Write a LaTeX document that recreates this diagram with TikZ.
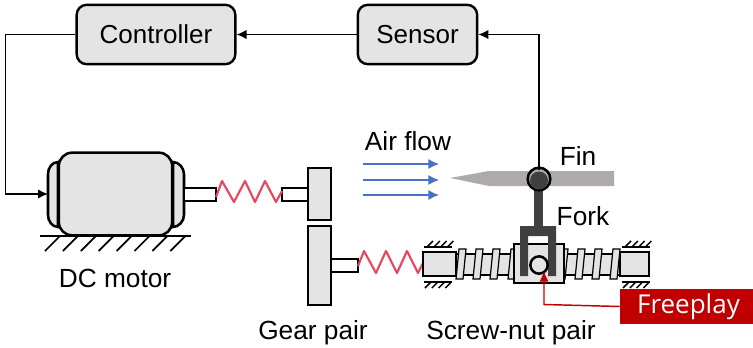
\documentclass[tikz,border=0pt]{standalone}
\usepackage{fontspec}
\setmainfont{Liberation Sans}
\newfontfamily\freefont{Open Sans}
\usetikzlibrary{arrows.meta}
\definecolor{boxgray}{HTML}{E4E4E4}
\definecolor{forkgray}{HTML}{404040}
\definecolor{fingray}{HTML}{AEAAAA}
\definecolor{springred}{HTML}{E8475F}
\definecolor{flowblue}{HTML}{4472C4}
\definecolor{darkred}{HTML}{C00000}
\tikzset{
  x=0.75pt,y=-0.75pt,
  ctrlbox/.style={draw=black,fill=boxgray,line width=1.8pt,rounded corners=7.5pt,minimum width=119pt,minimum height=44.5pt,inner sep=0pt,font=\fontsize{19.5}{22}\selectfont},
  part/.style={draw=black,fill=boxgray,line width=1.9pt},
  shaft/.style={draw=black,fill=white,line width=1.9pt},
  wire/.style={draw=black,line width=1pt,-{Latex[length=7.5pt,width=7pt]}},
  spring/.style={draw=springred,line width=1.6pt,line join=round},
  flow/.style={draw=flowblue,line width=1pt,-{Latex[length=8pt,width=7.5pt]}},
  hatch/.style={draw=black,line width=1.3pt},
  label/.style={inner sep=0pt,font=\fontsize{19.7}{22}\selectfont},
}
\begin{document}
\begin{tikzpicture}
\useasboundingbox (0,0) rectangle (753,347);
% boxes
\node[ctrlbox] (ctrl) at (156,34.5) {Controller};
\node[ctrlbox,minimum width=89.5pt] (sens) at (417.5,34.5) {Sensor};
% motor
\draw[part] (58,162) -- (58,227) .. controls (52,227) and (48,221) .. (48,215) -- (48,174) .. controls (48,168) and (52,162) .. (58,162) -- cycle;
\draw[part] (173,162) -- (173,227) .. controls (179,227) and (184,221) .. (184,215) -- (184,174) .. controls (184,168) and (179,162) .. (173,162) -- cycle;
\node[part,rounded corners=10pt,minimum width=85pt,minimum height=62pt,inner sep=0pt] (motor) at (115.5,194) {};
\coordinate (motorin) at (48,194);
\draw[hatch,line width=1.9pt] (40,236) -- (191,236);
\foreach \i in {0,...,7} \draw[hatch] (45+17.9*\i,251) -- (60+17.9*\i,236);
% shafts
\draw[shaft] (184,188) rectangle (216,201);
\draw[shaft] (282,188) rectangle (308,201);
\draw[shaft] (331,259) rectangle (358,272);
% springs
\draw[spring] (216,197) -- (222,181) -- (234,202) -- (245,181) -- (255,202) -- (265,181) -- (276,202) -- (282,191);
\draw[spring] (358,266) -- (364,251) -- (376,273) -- (386,251) -- (397,273) -- (407,251) -- (418,273) -- (423,263);
% gears
\draw[part] (308,168) rectangle (331,220);
\draw[part] (308,226) rectangle (331,305);
% screw
\draw[part,line width=0.9pt] (456,254) rectangle (620,275);
\draw[part,line width=1.5pt] (423,252) rectangle (456,276);
\draw[part,line width=1.5pt] (620,252) rectangle (649,276);
\foreach \tx in {456,473,490,508,558,575,592,610}
  \draw[part,line width=0.9pt] (\tx,279) -- (\tx+3,249) -- (\tx+10,249) -- (\tx+7,279) -- cycle;
\draw[part] (514,244) rectangle (564,283);
% wall hatches
\draw[hatch] (424,247) -- (452,247);
\foreach \i in {0,...,3} \draw[hatch,line width=1.1pt] (427+6.8*\i,247) -- (433+6.8*\i,241);
\draw[hatch] (424,282) -- (452,282);
\foreach \i in {0,...,3} \draw[hatch,line width=1.1pt] (425+6.8*\i,288) -- (431+6.8*\i,282);
\draw[hatch] (622,247) -- (650,247);
\foreach \i in {0,...,3} \draw[hatch,line width=1.1pt] (625+6.8*\i,247) -- (631+6.8*\i,241);
\draw[hatch] (622,282) -- (650,282);
\foreach \i in {0,...,3} \draw[hatch,line width=1.1pt] (623+6.8*\i,288) -- (629+6.8*\i,282);
% fin
\fill[fingray] (450,178) -- (489,171) -- (614,171) -- (614,186) -- (489,186) -- cycle;
% fork
\fill[forkgray] (534,180) rectangle (543,226);
\fill[forkgray] (520,276) -- (520,226) -- (556,226) -- (556,276) -- (548,276) -- (548,236) -- (528,236) -- (528,276) -- cycle;
\node[circle,draw=black,fill=boxgray,line width=1.9pt,minimum size=13pt,inner sep=0pt] (pin) at (539,265) {};
% pivot
\node[circle,draw=black,fill=fingray,line width=1.9pt,minimum size=17pt,inner sep=0pt] (pivot) at (539,179) {};
\fill[forkgray] (539,180.5) circle (9);
% connectors
\coordinate (tap) at (539,170);
\draw[wire] (tap) -- (539,34.5) -- (sens.east);
\draw[wire] (sens.west) -- (ctrl.east);
\draw[wire] (ctrl.west) -- (5.5,34.5) -- (5.5,194) -- (motorin);
% air flow
\foreach \y in {164,180,195} \draw[flow] (363,\y) -- (439,\y);
% freeplay
\node[fill=darkred,text=white,minimum width=99.75pt,minimum height=26pt,inner sep=0pt,font=\freefont\fontsize{19.5}{22}\selectfont] (free) at (686.5,306.5) {\hspace{3pt}Freeplay};
\draw[draw=darkred,line width=1.1pt,-{Latex[length=8pt,width=7pt]}] (free.west) -- (544,304.5) -- (544,271);
% labels
\node[label] (af) at (408,141) {Air flow};
\node[label] (fin) at (578,156) {Fin};
\node[label] (fork) at (583,216) {Fork};
\node[label] (dc) at (115,278) {DC motor};
\node[label] (gp) at (313,333) {Gear pair};
\node[label] (sn) at (511,333) {Screw-nut pair};
\end{tikzpicture}
\end{document}
